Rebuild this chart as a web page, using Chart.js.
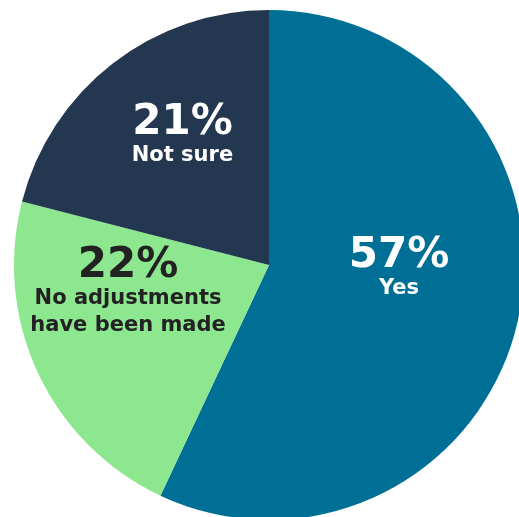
<!DOCTYPE html>
<html>
<head>
<meta charset="utf-8">
<script src="https://cdn.jsdelivr.net/npm/chart.js@4.4.1/dist/chart.umd.min.js"></script>
<style>
    html, body { margin: 0; padding: 0; background: #fff; overflow: hidden; width: 519px; height: 517px; }
    #wrap { position: absolute; left: 0; top: 0; width: 538px; height: 530px; }
</style>
</head>
<body>
<div id="wrap"><canvas id="myChart"></canvas></div>
<script>
const categories = ['Yes', 'No adjustments have been made', 'Not sure'];
const labelLines = [['Yes'], ['No adjustments', 'have been made'], ['Not sure']];
const shares = [57, 22, 21];
const sliceColors = ['#006f95', '#8ce78e', '#233850'];
const textColors = ['#ffffff', '#222222', '#ffffff'];

// where each label sits: angle clockwise from 12 o'clock, distance as part of radius
const labelSpots = [
    { angle: 91, dist: 0.51 },
    { angle: 265, dist: 0.555 },
    { angle: 326.5, dist: 0.615 }
];

const sliceLabels = {
    id: 'sliceLabels',
    afterDatasetsDraw(chart) {
        const ctx = chart.ctx;
        const meta = chart.getDatasetMeta(0);
        meta.data.forEach((arc, i) => {
            const r = arc.outerRadius * labelSpots[i].dist;
            const a = labelSpots[i].angle * Math.PI / 180;
            const x = arc.x + r * Math.sin(a);
            const y = arc.y - r * Math.cos(a);
            ctx.save();
            ctx.fillStyle = textColors[i];
            ctx.textAlign = 'center';
            ctx.textBaseline = 'alphabetic';
            ctx.font = 'bold 42px "DejaVu Sans", Verdana, sans-serif';
            ctx.fillText(shares[i] + '%', x, y);
            ctx.font = 'bold 21px "DejaVu Sans", Verdana, sans-serif';
            labelLines[i].forEach((line, j) => {
                ctx.fillText(line, x, y + 27 * (j + 1));
            });
            ctx.restore();
        });
    }
};

const ctx = document.getElementById('myChart').getContext('2d');
const myChart = new Chart(ctx, {
    type: 'pie',
    data: {
        labels: categories,
        datasets: [{
            data: shares,
            backgroundColor: sliceColors,
            borderWidth: 0
        }]
    },
    options: {
        responsive: true,
        maintainAspectRatio: false,
        animation: false,
        layout: { padding: 10 },
        plugins: {
            legend: { display: false },
            tooltip: { enabled: false }
        }
    },
    plugins: [sliceLabels]
});
</script>
</body>
</html>
